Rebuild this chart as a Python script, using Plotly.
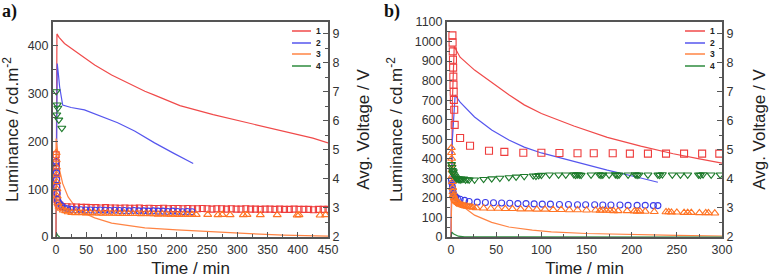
import plotly.graph_objects as go

# ---------------- data: panel a ----------------
series_names = ["1", "2", "3", "4"]
line_colors = ["#f04a4a", "#5656ee", "#ff8444", "#2e8b3e"]
marker_colors = ["#ee3c3c", "#3c3ce8", "#ff7424", "#1c7a2a"]

a_red_t = [0, 0.5, 1.5, 5, 14, 36, 64, 92, 119, 147, 163, 205, 260, 316, 370, 425, 450]
a_red_lum = [0, 300, 425, 418, 405, 385, 360, 339, 322, 305, 297, 275, 256, 239, 223, 207, 197]
a_blue_t = [0, 1, 2, 4, 6, 11, 25, 47, 75, 102, 130, 163, 195, 227]
a_blue_lum = [0, 250, 363, 340, 314, 276, 271, 266, 253, 239, 222, 197, 175, 154]
a_orange_t = [0, 0.3, 3, 6, 11, 20, 36, 64, 92, 147, 200, 266, 320, 376, 450]
a_orange_lum = [0, 206, 176, 140, 112, 84, 56, 40, 29, 19, 15, 10, 7, 4, 2]
a_green_t = [0, 1, 3, 6]
a_green_lum = [0, 8, 3, 0]

a_sq_t = [0.3, 0.5, 0.7, 0.9, 1.1, 1.3, 1.5, 3, 6,
          10, 18, 26, 34, 42, 50, 58, 66, 74, 82, 90, 98, 106, 114, 122, 130, 138, 146, 154, 162,
          170, 178, 186, 194, 202, 210, 218, 226, 234, 242, 250, 258, 266, 274, 282, 290, 298, 306,
          314, 322, 330, 338, 346, 354, 362, 370, 378, 386, 394, 402, 410, 418, 426, 434, 442, 450]
a_sq_v = [4.83, 4.55, 4.24, 3.97, 3.72, 3.52, 3.28, 3.17, 3.10,
          3.05, 3.04, 3.03, 3.03, 3.02, 3.02, 3.01, 3.01, 3.00, 3.01, 3.00, 3.00, 2.99, 3.00, 2.99,
          2.99, 3.00, 2.98, 2.99, 2.98, 2.98, 2.99, 2.97, 2.98, 2.98, 2.97, 2.98, 2.97, 2.97, 2.98,
          2.97, 2.96, 2.97, 2.97, 2.96, 2.97, 2.96, 2.96, 2.97, 2.96, 2.96, 2.95, 2.96, 2.96, 2.95,
          2.96, 2.95, 2.95, 2.96, 2.95, 2.95, 2.95, 2.94, 2.95, 2.95, 2.95]
a_ci_t = [0.3, 0.5, 0.8, 1.0, 1.3, 1.8, 2.5, 5, 9, 14, 19,
          25, 33, 41, 49, 57, 65, 73, 81, 89, 97, 105, 113, 121, 129, 137, 145, 153, 161, 169,
          177, 185, 193, 201, 209, 217, 225]
a_ci_v = [4.60, 4.42, 4.20, 3.97, 3.73, 3.50, 3.28, 3.17, 3.08, 3.00, 2.97,
          2.95, 2.94, 2.94, 2.93, 2.93, 2.92, 2.93, 2.92, 2.91, 2.92, 2.91, 2.91, 2.90, 2.91, 2.90,
          2.90, 2.89, 2.90, 2.89, 2.89, 2.88, 2.89, 2.88, 2.87, 2.88, 2.87]
a_tr_t = [0.3, 0.5, 0.8, 1.0, 1.3, 1.6, 2, 3, 5, 8, 12, 16, 20,
          26, 32, 38, 44, 50, 57, 64, 71, 78, 85, 92, 99, 106, 113, 120, 127, 134, 141, 148, 155,
          162, 169, 176, 183, 190, 197, 204, 211, 218, 225, 232,
          251, 268, 275, 288, 310, 316, 338, 366, 399, 402, 437, 446]
a_tr_v = [4.90, 4.65, 4.40, 4.15, 3.90, 3.65, 3.40, 3.17, 3.05, 2.98, 2.92, 2.90, 2.86,
          2.84, 2.83, 2.84, 2.83, 2.82, 2.83, 2.82, 2.82, 2.81, 2.82, 2.81, 2.81, 2.80, 2.81, 2.80,
          2.80, 2.80, 2.79, 2.80, 2.79, 2.79, 2.78, 2.79, 2.78, 2.78, 2.78, 2.77, 2.78, 2.77, 2.77,
          2.77, 2.77, 2.76, 2.77, 2.76, 2.76, 2.77, 2.76, 2.76, 2.75, 2.76, 2.75, 2.76]
a_dt_t = [0.3, 1.3, 2, 3, 4.6, 9.6]
a_dt_v = [7.01, 6.21, 6.55, 6.44, 6.03, 5.75]

# ---------------- data: panel b ----------------
b_red_t = [0, 1.5, 3.5, 10, 26, 45, 64, 81, 100, 136, 173, 210, 246, 275, 300]
b_red_lum = [0, 700, 975, 920, 854, 790, 728, 676, 632, 568, 510, 465, 426, 400, 378]
b_blue_t = [0, 1.5, 4.5, 10, 26, 45, 64, 81, 100, 136, 173, 210, 229]
b_blue_lum = [0, 500, 726, 690, 614, 547, 496, 460, 430, 385, 342, 302, 280]
b_orange_t = [0, 1, 3, 8, 15, 26, 45, 64, 90, 111, 150, 200, 250, 300]
b_orange_lum = [0, 300, 215, 185, 150, 112, 75, 51, 35, 26, 18, 12, 8, 5]
b_green_t = [0, 1, 3, 8, 15, 300]
b_green_lum = [0, 25, 15, 4, 1, 0]

b_sq_t = [1.5, 1.7, 1.9, 2.1, 2.3, 2.5, 2.7, 2.9, 3.1, 3.5, 4, 10, 21, 42, 59, 80, 100, 120, 140,
          158, 179, 198, 218, 238, 258, 278, 297]
b_sq_v = [8.94, 8.69, 8.39, 8.10, 7.83, 7.52, 7.24, 7.00, 6.72, 6.38, 5.86, 5.41, 5.14, 4.97, 4.93,
          4.90, 4.90, 4.89, 4.88, 4.88, 4.88, 4.87, 4.87, 4.87, 4.87, 4.87, 4.87]
b_ci_t = [0.5, 1, 1.5, 2, 2.5, 3, 4, 5, 7, 10, 15,
          20, 29, 38, 47, 56, 65, 74, 83, 92, 101, 110, 120, 130, 140, 149, 159, 168, 177, 187, 196,
          206, 215, 224, 229]
b_ci_v = [3.97, 3.85, 3.72, 3.60, 3.50, 3.45, 3.40, 3.38, 3.33, 3.30, 3.26,
          3.22, 3.20, 3.19, 3.18, 3.17, 3.16, 3.15, 3.15, 3.14, 3.13, 3.13, 3.12, 3.12, 3.11, 3.11,
          3.11, 3.10, 3.10, 3.10, 3.09, 3.09, 3.09, 3.08, 3.08]
b_tr_t = [0.3, 0.5, 0.7, 0.9, 1.1, 1.3, 1.5, 1.8, 2.1, 2.5, 3, 3.5, 4, 5, 6, 7, 8, 9, 10, 12, 14,
          16, 18, 20, 22, 24,
          28, 36, 44, 52, 60, 68, 77, 86, 95, 104, 113, 122, 131, 140, 150, 160, 165, 168, 172, 176,
          180, 185, 195, 203, 206, 209, 215, 225, 238, 241, 244, 250, 258, 262, 266, 275, 282, 285, 292]
b_tr_v = [5.07, 4.90, 4.70, 4.50, 4.30, 4.10, 3.90, 3.70, 3.55, 3.45, 3.40, 3.35, 3.30, 3.25, 3.22,
          3.20, 3.18, 3.15, 3.12, 3.10, 3.08, 3.06, 3.05, 3.04, 3.03, 3.02,
          3.00, 2.99, 2.98, 2.98, 2.97, 2.97, 2.96, 2.96, 2.95, 2.95, 2.94, 2.94, 2.93, 2.93, 2.92,
          2.92, 2.91, 2.92, 2.91, 2.91, 2.90, 2.90, 2.90, 2.89, 2.88, 2.89, 2.88, 2.87, 2.86, 2.86,
          2.85, 2.85, 2.84, 2.84, 2.84, 2.83, 2.83, 2.83, 2.82]
b_dt_t = [0.5, 1, 1.5, 2, 2.5, 3, 4, 5, 6, 7, 8, 9, 10, 11, 12, 14, 16, 18, 20,
          26, 36, 45, 54, 64, 72, 81, 91, 94, 97, 100, 109, 119, 127, 136, 138, 140, 142, 144, 155,
          164, 166, 168, 175, 182, 184, 186, 196, 204, 206, 208, 218, 229, 231, 234, 245, 254, 262,
          274, 276, 279, 288, 298]
b_dt_v = [4.50, 4.40, 4.30, 4.20, 4.25, 4.15, 4.10, 4.05, 4.00, 4.02, 3.98, 4.00, 3.97, 4.00, 3.98,
          4.00, 3.97, 3.98, 3.97,
          3.97, 3.99, 4.01, 4.03, 4.05, 4.07, 4.09, 4.11, 4.10, 4.12, 4.13, 4.14, 4.14, 4.14, 4.15,
          4.13, 4.15, 4.14, 4.13, 4.14, 4.15, 4.13, 4.14, 4.14, 4.15, 4.13, 4.14, 4.14, 4.15, 4.13,
          4.14, 4.14, 4.14, 4.13, 4.15, 4.14, 4.14, 4.14, 4.14, 4.13, 4.15, 4.14, 4.14]

a_xticks = [0, 50, 100, 150, 200, 250, 300, 350, 400, 450]
b_xticks = [0, 50, 100, 150, 200, 250, 300]

# ---------------- figure ----------------
W, H = 769, 278
ML, MR, MT, MB = 53, 47, 22, 41
PW, PH = W - ML - MR, H - MT - MB
FONT = "Liberation Sans, Arial, sans-serif"
AXC = "#555555"

def px(x):
    return (x - ML) / PW

def py(y):
    return (H - MB - y) / PH

fig = go.Figure()

def add_line(t, v, c, name, xa, ya):
    fig.add_trace(go.Scatter(x=t, y=v, mode="lines", name=name, xaxis=xa, yaxis=ya,
                             line=dict(color=c, width=1.2), showlegend=False))

def add_mk(t, v, c, sym, size, name, xa, ya):
    fig.add_trace(go.Scatter(x=t, y=v, mode="markers", name=name, xaxis=xa, yaxis=ya,
                             marker=dict(symbol=sym, size=size, color=c,
                                         line=dict(color=c, width=1.1)), showlegend=False))

# panel a
add_line(a_red_t, a_red_lum, line_colors[0], series_names[0], "x", "y")
add_line(a_blue_t, a_blue_lum, line_colors[1], series_names[1], "x", "y")
add_line(a_orange_t, a_orange_lum, line_colors[2], series_names[2], "x", "y")
add_line(a_green_t, a_green_lum, line_colors[3], series_names[3], "x", "y")
add_mk(a_sq_t, a_sq_v, marker_colors[0], "square-open", 6, series_names[0] + " V", "x", "y2")
add_mk(a_ci_t, a_ci_v, marker_colors[1], "circle-open", 6, series_names[1] + " V", "x", "y2")
add_mk(a_tr_t, a_tr_v, marker_colors[2], "triangle-up-open", 7, series_names[2] + " V", "x", "y2")
add_mk(a_dt_t, a_dt_v, marker_colors[3], "triangle-down-open", 7, series_names[3] + " V", "x", "y2")

# panel b
add_line(b_red_t, b_red_lum, line_colors[0], series_names[0], "x2", "y3")
add_line(b_blue_t, b_blue_lum, line_colors[1], series_names[1], "x2", "y3")
add_line(b_orange_t, b_orange_lum, line_colors[2], series_names[2], "x2", "y3")
add_line(b_green_t, b_green_lum, line_colors[3], series_names[3], "x2", "y3")
add_mk(b_sq_t, b_sq_v, marker_colors[0], "square-open", 7, series_names[0] + " V", "x2", "y4")
add_mk(b_ci_t, b_ci_v, marker_colors[1], "circle-open", 6, series_names[1] + " V", "x2", "y4")
add_mk(b_tr_t, b_tr_v, marker_colors[2], "triangle-up-open", 7, series_names[2] + " V", "x2", "y4")
add_mk(b_dt_t, b_dt_v, marker_colors[3], "triangle-down-open", 7, series_names[3] + " V", "x2", "y4")

tickfont = dict(family=FONT, size=12.5, color="#333333")
titlefont = dict(family=FONT, size=17, color="#222222")

def xax(dom, rng, ticks, anchor):
    return dict(domain=dom, range=rng, anchor=anchor, tickvals=ticks, ticks="inside", ticklen=5,
                tickcolor=AXC, tickwidth=1, showline=True, linecolor=AXC, linewidth=2, mirror=True,
                showgrid=False, zeroline=False, tickfont=tickfont,
                minor=dict(dtick=25, ticks="inside", ticklen=3, tickcolor=AXC, showgrid=False),
                title=dict(text="Time / min", font=titlefont, standoff=6), automargin=False)

def yl(rng, dt, anchor, standoff):
    return dict(domain=[0, 1], range=rng, anchor=anchor, dtick=dt, ticks="inside", ticklen=5,
                tickcolor=AXC, showline=True, linecolor=AXC, linewidth=2, showgrid=False,
                zeroline=False, tickfont=tickfont,
                minor=dict(dtick=dt / 2, ticks="inside", ticklen=3, tickcolor=AXC, showgrid=False),
                title=dict(text="Luminance / cd.m<sup>-2</sup>", font=titlefont, standoff=standoff),
                automargin=False)

def yr(overlay, anchor, standoff):
    return dict(range=[2, 9.4], overlaying=overlay, anchor=anchor, side="right", dtick=1,
                ticks="inside", ticklen=5, tickcolor=AXC, showline=True, linecolor=AXC,
                linewidth=2, showgrid=False, zeroline=False, tickfont=tickfont,
                minor=dict(dtick=0.5, ticks="inside", ticklen=3, tickcolor=AXC, showgrid=False),
                title=dict(text="Avg. Voltage / V", font=titlefont, standoff=standoff),
                automargin=False)

fig.update_layout(
    width=W, height=H, margin=dict(l=ML, r=MR, t=MT, b=MB),
    paper_bgcolor="white", plot_bgcolor="white", showlegend=False,
    font=dict(family=FONT),
    xaxis=xax([0, px(328)], [-5, 450], a_xticks, "y"),
    yaxis=yl([0, 450], 100, "x", 6),
    yaxis2=yr("y", "x", 19),
    xaxis2=xax([px(447), 1], [-4.5, 300], b_xticks, "y3"),
    yaxis3=yl([0, 1100], 100, "x2", 8),
    yaxis4=yr("y3", "x2", 22),
)

# panel labels
fig.add_annotation(text="<b>a)</b>", x=px(0), y=py(11), xref="paper", yref="paper",
                   xanchor="left", yanchor="middle", showarrow=False,
                   font=dict(family="Liberation Serif, Times New Roman, serif", size=18, color="#111"))
fig.add_annotation(text="<b>b)</b>", x=px(382), y=py(11), xref="paper", yref="paper",
                   xanchor="left", yanchor="middle", showarrow=False,
                   font=dict(family="Liberation Serif, Times New Roman, serif", size=18, color="#111"))

# manual compact legends (one per panel)
legend_rows = [31, 43, 54, 66]
for x0, x1, xl in [(292, 311, 314), (685, 705, 708)]:
    for name, col, yrow in zip(series_names, line_colors, legend_rows):
        fig.add_shape(type="line", xref="paper", yref="paper", x0=px(x0), x1=px(x1),
                      y0=py(yrow), y1=py(yrow), line=dict(color=col, width=1.5))
        fig.add_annotation(text="<b>" + name + "</b>", x=px(xl), y=py(yrow), xref="paper",
                           yref="paper", xanchor="left", yanchor="middle", showarrow=False,
                           font=dict(family=FONT, size=8.5, color="#222"))

fig.write_html("out.html")
